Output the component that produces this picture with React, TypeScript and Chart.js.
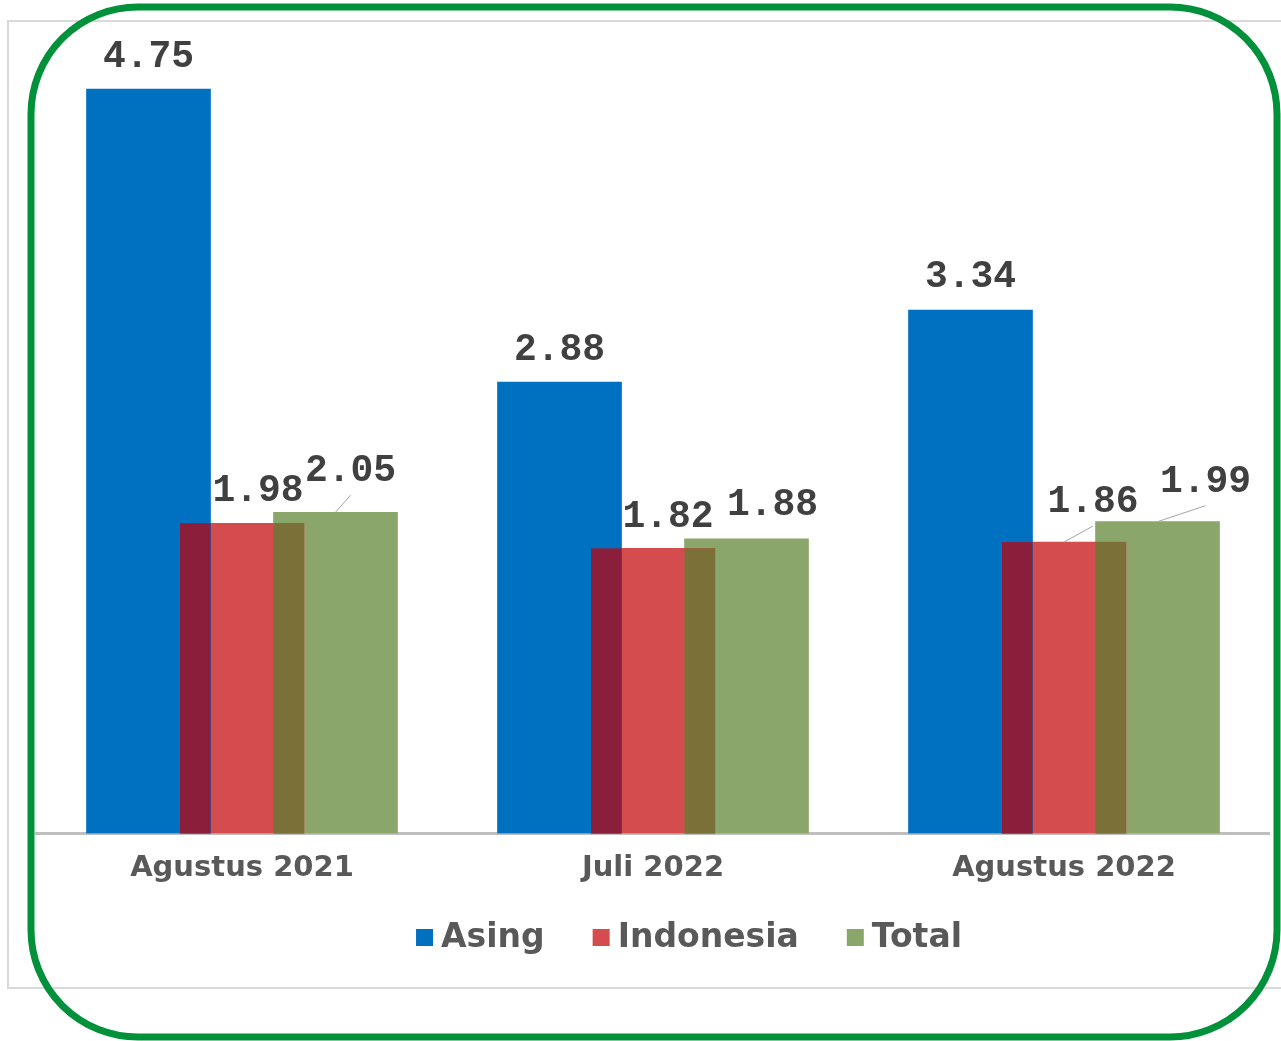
import React, { useEffect, useRef } from "react";
import { Chart, registerables } from "chart.js";

Chart.register(...registerables);

const categories = ["Agustus 2021", "Juli 2022", "Agustus 2022"];
const seriesNames = ["Asing", "Indonesia", "Total"];
const asing = [4.75, 2.88, 3.34];
const indonesia = [1.98, 1.82, 1.86];
const total = [2.05, 1.88, 1.99];

const seriesColors = ["#0070C0", "#D54C4F", "#8BA66B"];
const overlapColors = ["#8B1F3B", "#7B7037"]; // blue∩red, red∩green
const barShift = [-93.5, 0, 93.5];

// label placement relative to bar-top centre: [dx, dy(baseline), leader]
const labelPlacement: [number, number, boolean][][] = [
  [[0, -22, false], [0, -22, false], [0, -23, false]],
  [[16, -22, false], [15, -21, false], [29, -30, true]],
  [[15, -31, true], [26, -24, false], [48, -30, true]],
];

const framePlugin = {
  id: "frame",
  beforeDraw(chart: any) {
    const ctx = chart.ctx;
    ctx.save();
    ctx.fillStyle = "#FFFFFF";
    ctx.fillRect(0, 0, chart.width, chart.height);
    ctx.strokeStyle = "#D9D9D9";
    ctx.lineWidth = 2;
    ctx.strokeRect(8, 21, chart.width + 20, 967);
    ctx.restore();
  },
  afterDraw(chart: any) {
    const ctx = chart.ctx;
    ctx.save();
    ctx.strokeStyle = "#00913A";
    ctx.lineWidth = 7;
    const x = 31, y = 7, w = 1277 - 31, h = 1037 - 7, r = 107;
    ctx.beginPath();
    ctx.moveTo(x + r, y);
    ctx.lineTo(x + w - r, y);
    ctx.arcTo(x + w, y, x + w, y + r, r);
    ctx.lineTo(x + w, y + h - r);
    ctx.arcTo(x + w, y + h, x + w - r, y + h, r);
    ctx.lineTo(x + r, y + h);
    ctx.arcTo(x, y + h, x, y + h - r, r);
    ctx.lineTo(x, y + r);
    ctx.arcTo(x, y, x + r, y, r);
    ctx.closePath();
    ctx.stroke();
    ctx.restore();
  },
};

const shiftPlugin = {
  id: "shift",
  beforeDatasetDraw(chart: any, args: any) {
    chart.ctx.save();
    chart.ctx.translate(barShift[args.index], 0);
  },
  afterDatasetDraw(chart: any) {
    chart.ctx.restore();
  },
};

const overlapPlugin = {
  id: "overlap",
  afterDatasetsDraw(chart: any) {
    const ctx = chart.ctx;
    ctx.save();
    for (let d = 0; d < 2; d++) {
      const a = chart.getDatasetMeta(d).data;
      const b = chart.getDatasetMeta(d + 1).data;
      for (let i = 0; i < a.length; i++) {
        const ea = a[i], eb = b[i];
        const aL = ea.x - ea.width / 2 + barShift[d];
        const aR = ea.x + ea.width / 2 + barShift[d];
        const bL = eb.x - eb.width / 2 + barShift[d + 1];
        const bR = eb.x + eb.width / 2 + barShift[d + 1];
        const l = Math.max(aL, bL), r = Math.min(aR, bR);
        const top = Math.max(ea.y, eb.y);
        const base = ea.base;
        if (r > l) {
          ctx.fillStyle = overlapColors[d];
          ctx.fillRect(l, top, r - l, base - top);
        }
      }
    }
    ctx.restore();
  },
};

const labelPlugin = {
  id: "valueLabels",
  afterDatasetsDraw(chart: any) {
    const ctx = chart.ctx;
    ctx.save();
    ctx.font = "bold 38px 'Liberation Mono'";
    ctx.fillStyle = "#404040";
    ctx.textAlign = "center";
    ctx.textBaseline = "alphabetic";
    chart.data.datasets.forEach((ds: any, d: number) => {
      const meta = chart.getDatasetMeta(d);
      meta.data.forEach((el: any, i: number) => {
        const [dx, dy, leader] = labelPlacement[d][i];
        const cx = el.x + barShift[d];
        const lx = cx + dx;
        const ly = el.y + dy;
        if (leader) {
          ctx.strokeStyle = "#A6A6A6";
          ctx.lineWidth = 1;
          ctx.beginPath();
          ctx.moveTo(cx, el.y);
          ctx.lineTo(lx, ly + 14);
          ctx.stroke();
        }
        ctx.fillText(ds.data[i].toFixed(2), lx, ly);
      });
    });
    ctx.restore();
  },
};

const legendPlugin = {
  id: "customLegend",
  afterDraw(chart: any) {
    const ctx = chart.ctx;
    ctx.save();
    ctx.font = "bold 33px 'DejaVu Sans'";
    ctx.textBaseline = "middle";
    ctx.textAlign = "left";
    const box = 17, gapText = 8, gapItem = 48, cy = 937.5;
    const widths = chart.data.datasets.map((ds: any) => box + gapText + ctx.measureText(ds.label).width);
    const totalW = widths.reduce((s: number, w: number) => s + w, 0) + gapItem * (widths.length - 1);
    let x = 689 - totalW / 2;
    chart.data.datasets.forEach((ds: any, i: number) => {
      ctx.fillStyle = ds.backgroundColor;
      ctx.fillRect(x, cy - box / 2, box, box);
      ctx.fillStyle = "#595959";
      ctx.fillText(ds.label, x + box + gapText, cy + 1);
      x += widths[i] + gapItem;
    });
    ctx.restore();
  },
};

export default function App() {
  const ref = useRef<HTMLCanvasElement | null>(null);
  useEffect(() => {
    if (!ref.current) return;
    const values = [asing, indonesia, total];
    const chart = new Chart(ref.current, {
      type: "bar",
      data: {
        labels: categories,
        datasets: seriesNames.map((name, i) => ({
          label: name,
          data: values[i],
          backgroundColor: seriesColors[i],
          borderWidth: 0,
          barThickness: 124,
          grouped: false,
        })),
      },
      options: {
        responsive: false,
        animation: false,
        events: [],
        layout: { padding: { left: 36.5, right: 11.5, top: 50, bottom: 136.7 } },
        plugins: { legend: { display: false }, tooltip: { enabled: false } },
        scales: {
          x: {
            z: 1,
            grid: { display: false, drawTicks: false },
            border: { display: true, color: "#BFBFBF", width: 3 },
            ticks: {
              color: "#595959",
              font: { family: "'DejaVu Sans'", size: 29, weight: "bold" },
              padding: 18,
            },
          },
          y: {
            display: false,
            min: 0,
            max: 5,
          },
        },
      },
      plugins: [framePlugin, shiftPlugin, overlapPlugin, labelPlugin, legendPlugin],
    } as any);
    return () => chart.destroy();
  }, []);
  return (
    <div style={{ position: "fixed", left: 0, top: 0, width: 1281, height: 1041 }}>
      <canvas ref={ref} width={1281} height={1041} style={{ display: "block" }} />
    </div>
  );
}
